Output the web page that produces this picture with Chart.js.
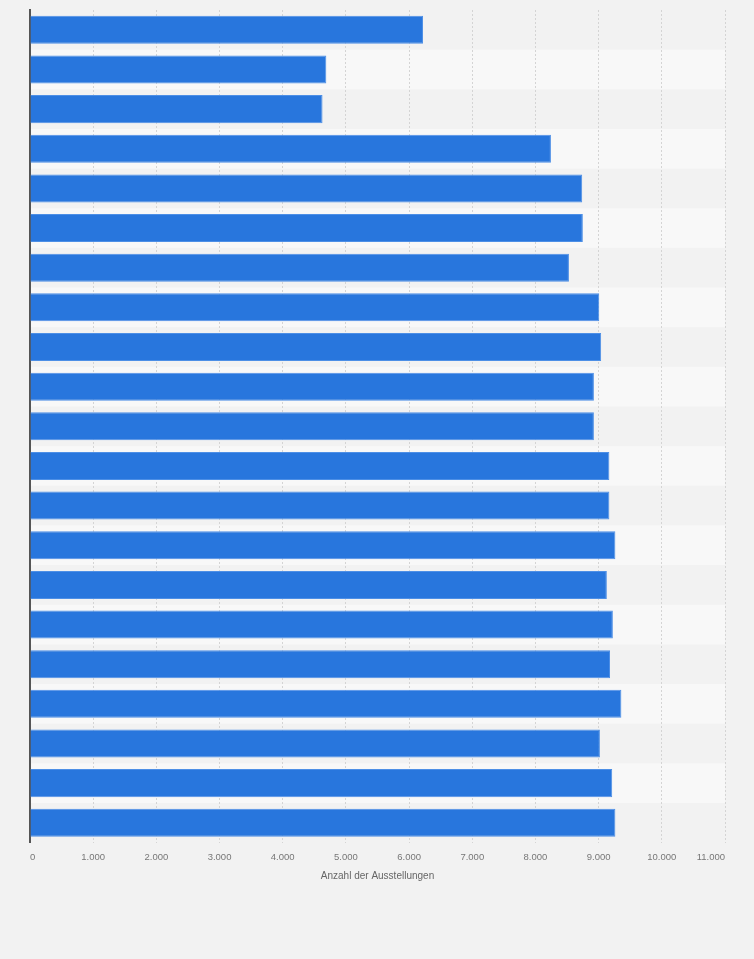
<!DOCTYPE html>
<html>
<head>
<meta charset="utf-8">
<script src="https://cdn.jsdelivr.net/npm/chart.js@4/dist/chart.umd.min.js"></script>
<style>
  html, body { margin: 0; padding: 0; background: #f2f2f2; }
  canvas { display: block; }
</style>
</head>
<body>
<canvas id="c" width="754" height="959"></canvas>
<script>
const categories = ['2022','2021','2020','2019','2018','2017','2016','2015','2014','2013','2012','2011','2010','2009','2008','2007','2006','2005','2004','2003','2002'];
const exhibitions = [6220, 4690, 4630, 8245, 8740, 8750, 8530, 9010, 9040, 8925, 8925, 9170, 9170, 9265, 9130, 9225, 9180, 9360, 9020, 9215, 9265];
const xTicks = [0, 1000, 2000, 3000, 4000, 5000, 6000, 7000, 8000, 9000, 10000, 11000];
const xTitle = 'Anzahl der Ausstellungen';

const bgPlugin = {
  id: 'bg',
  beforeDraw(chart) {
    const { ctx, chartArea, scales } = chart;
    ctx.save();
    ctx.fillStyle = '#f2f2f2';
    ctx.fillRect(0, 0, chart.width, chart.height);
    const y = scales.y;
    const n = categories.length;
    const h = (chartArea.bottom - chartArea.top) / n;
    ctx.fillStyle = '#f8f8f8';
    for (let i = 1; i < n; i += 2) {
      const c = y.getPixelForValue(i);
      ctx.fillRect(chartArea.left, c - h / 2, chartArea.right - chartArea.left, h);
    }
    ctx.restore();
  }
};

new Chart(document.getElementById('c'), {
  type: 'bar',
  data: {
    labels: categories,
    datasets: [{
      data: exhibitions,
      backgroundColor: '#2876dd',
      borderColor: '#4d8fe6',
      borderWidth: 1,
      borderSkipped: 'left',
      categoryPercentage: 1,
      barPercentage: 0.707
    }]
  },
  options: {
    responsive: false,
    animation: false,
    devicePixelRatio: 1,
    indexAxis: 'y',
    layout: { padding: { left: 30, right: 29, top: 10, bottom: 77 } },
    plugins: { legend: { display: false }, tooltip: { enabled: false } },
    scales: {
      x: {
        min: 0,
        max: 11000,
        afterBuildTicks(axis) { axis.ticks = xTicks.map(v => ({ value: v })); },
        grid: { color: '#d4d4d4', lineWidth: 1, drawTicks: false },
        border: { display: false, dash: [2, 2] },
        ticks: {
          align: 'inner',
          padding: 9,
          color: '#777',
          font: { family: 'Liberation Sans, Arial, sans-serif', size: 9.5 },
          callback(v) { return Number(v).toLocaleString('de-DE'); }
        },
        title: {
          display: true,
          text: xTitle,
          color: '#666',
          font: { family: 'Liberation Sans, Arial, sans-serif', size: 10 },
          padding: { top: -2, bottom: 0 }
        }
      },
      y: {
        grid: { display: false, drawTicks: false },
        ticks: { display: false },
        border: { display: true, color: '#555', width: 2 }
      }
    }
  },
  plugins: [bgPlugin]
});
</script>
</body>
</html>
